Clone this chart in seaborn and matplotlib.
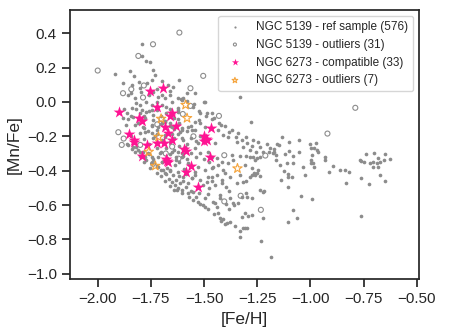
import matplotlib
matplotlib.use('Agg')
import numpy as np
import pandas as pd
import matplotlib.pyplot as plt
import seaborn as sns

# NGC 5139 reference sample ([Fe/H], [Mn/Fe]), grouped by region
ref_upper = [
    (-1.79, 0.335), (-1.79, 0.27), (-1.775, 0.24), (-1.755, 0.23), (-1.92, 0.163),
    (-1.85, 0.182), (-1.83, 0.151), (-1.805, 0.118), (-1.74, 0.186), (-1.732, 0.157),
    (-1.747, 0.128), (-1.766, 0.109), (-1.881, 0.109), (-1.841, 0.099), (-1.669, 0.099),
    (-1.645, 0.089), (-1.857, 0.041), (-1.826, 0.021), (-1.797, 0.06), (-1.739, 0.06),
    (-1.716, 0.031), (-1.684, 0.021), (-1.661, 0.041), (-1.821, -0.004), (-1.802, -0.017),
    (-1.771, 0.002), (-1.747, -0.017), (-1.719, 0.002), (-1.697, -0.017), (-1.653, 0.002),
    (-1.606, 0.012), (-1.876, -0.043), (-1.841, -0.037), (-1.794, -0.047), (-1.771, -0.056),
    (-1.747, -0.047), (-1.677, -0.031), (-1.622, -0.047), (-1.881, -0.095), (-1.857, -0.101),
    (-1.834, -0.085), (-1.78, -0.081), (-1.739, -0.105), (-1.684, -0.114), (-1.622, -0.101),
    (-1.826, -0.134), (-1.786, -0.144), (-1.747, -0.134), (-1.716, -0.144), (-1.653, -0.144),
    (-1.62, 0.13), (-1.33, 0.03), (-1.50, 0.0), (-1.61, 0.015), (-1.70, 0.12),
    (-1.543, 0.05), (-1.598, 0.021), (-1.496, 0.002), (-1.622, -0.037),
]
ref_left = [
    (-1.865, -0.134), (-1.81, -0.124), (-1.70, -0.124), (-1.661, -0.12), (-1.779, -0.172),
    (-1.747, -0.178), (-1.732, -0.198), (-1.684, -0.192), (-1.653, -0.186), (-1.614, -0.172),
    (-1.606, -0.211), (-1.857, -0.25), (-1.834, -0.264), (-1.81, -0.279), (-1.787, -0.289),
    (-1.826, -0.289), (-1.763, -0.299), (-1.747, -0.318), (-1.708, -0.299), (-1.653, -0.289),
    (-1.63, -0.318), (-1.606, -0.299), (-1.771, -0.337), (-1.747, -0.357), (-1.70, -0.347),
    (-1.716, -0.376), (-1.692, -0.396), (-1.684, -0.415), (-1.661, -0.396), (-1.645, -0.425),
    (-1.63, -0.454), (-1.653, -0.464), (-1.614, -0.473), (-1.606, -0.512), (-1.622, -0.502),
]
ref_mid = [
    (-1.488, -0.066), (-1.465, -0.066), (-1.543, -0.114), (-1.52, -0.124), (-1.496, -0.144),
    (-1.575, -0.144), (-1.606, -0.163), (-1.559, -0.163), (-1.433, -0.163), (-1.41, -0.192),
    (-1.386, -0.202), (-1.347, -0.231), (-1.323, -0.221), (-1.30, -0.241), (-1.237, -0.26),
    (-1.222, -0.289), (-1.37, -0.308), (-1.362, -0.338), (-1.386, -0.357), (-1.418, -0.347),
    (-1.441, -0.328), (-1.433, -0.367), (-1.457, -0.376), (-1.41, -0.396), (-1.308, -0.367),
    (-1.276, -0.386), (-1.465, -0.318), (-1.48, -0.289), (-1.449, -0.241), (-1.527, -0.241),
    (-1.543, -0.27), (-1.59, -0.26), (-1.622, -0.289), (-1.606, -0.318), (-1.63, -0.338),
    (-1.575, -0.357), (-1.527, -0.376), (-1.496, -0.396), (-1.543, -0.425), (-1.48, -0.435),
    (-1.622, -0.405), (-1.598, -0.435),
]
ref_low = [
    (-1.575, -0.473), (-1.559, -0.444), (-1.488, -0.464), (-1.465, -0.435), (-1.449, -0.483),
    (-1.418, -0.454), (-1.402, -0.415), (-1.378, -0.435), (-1.347, -0.473), (-1.315, -0.464),
    (-1.284, -0.435), (-1.625, -0.515), (-1.575, -0.532), (-1.551, -0.522), (-1.527, -0.58),
    (-1.504, -0.599), (-1.496, -0.609), (-1.449, -0.59), (-1.426, -0.541), (-1.378, -0.561),
    (-1.362, -0.59), (-1.339, -0.59), (-1.30, -0.551), (-1.276, -0.561), (-1.237, -0.512),
    (-1.222, -0.522), (-1.433, -0.648), (-1.426, -0.677), (-1.41, -0.683), (-1.394, -0.706),
    (-1.378, -0.697), (-1.355, -0.725), (-1.331, -0.754), (-1.315, -0.735), (-1.30, -0.735),
    (-1.331, -0.784), (-1.222, -0.677), (-1.323, -0.667), (-1.308, -0.648), (-1.276, -0.657),
    (-1.232, -0.811), (-1.187, -0.902),
]
ref_tail = [
    (-1.279, -0.114), (-1.135, -0.202), (-1.248, -0.235), (-1.273, -0.256), (-1.100, -0.235),
    (-1.053, -0.223), (-1.190, -0.266), (-1.158, -0.246), (-1.001, -0.244), (-0.973, -0.237),
    (-0.998, -0.27), (-0.983, -0.27), (-0.967, -0.279), (-0.965, -0.289), (-1.257, -0.289),
    (-1.194, -0.293), (-1.178, -0.299), (-1.170, -0.289), (-1.162, -0.308), (-1.099, -0.283),
    (-1.331, -0.314), (-1.303, -0.314), (-1.284, -0.318), (-1.268, -0.318), (-1.253, -0.328),
    (-1.26, -0.338), (-1.238, -0.322), (-0.930, -0.322), (-0.933, -0.338), (-0.992, -0.308),
    (-0.995, -0.338), (-0.989, -0.353), (-0.998, -0.357), (-0.739, -0.303), (-0.699, -0.299),
    (-0.651, -0.303), (-0.769, -0.338), (-0.763, -0.343), (-0.750, -0.349), (-0.719, -0.357),
    (-0.708, -0.347), (-0.684, -0.328), (-0.672, -0.347), (-0.687, -0.353), (-0.654, -0.338),
    (-0.626, -0.334), (-0.708, -0.376), (-0.680, -0.38), (-1.111, -0.353), (-1.080, -0.353),
    (-1.033, -0.376), (-0.983, -0.38), (-0.892, -0.371), (-0.863, -0.396), (-0.839, -0.396),
    (-0.819, -0.409), (-0.914, -0.405), (-1.143, -0.367), (-1.163, -0.338), (-1.123, -0.402),
    (-1.107, -0.435), (-1.085, -0.438), (-1.107, -0.419), (-1.025, -0.423), (-1.139, -0.454),
    (-1.105, -0.493), (-0.761, -0.444), (-0.675, -0.425), (-0.651, -0.46), (-0.726, -0.477),
    (-0.834, -0.469), (-1.305, -0.46), (-1.273, -0.423), (-1.265, -0.411), (-1.246, -0.396),
    (-1.249, -0.411), (-1.237, -0.431), (-1.26, -0.425), (-1.331, -0.425), (-1.217, -0.52),
    (-1.303, -0.532), (-1.323, -0.551), (-1.045, -0.549), (-0.994, -0.566), (-1.083, -0.63),
    (-1.105, -0.696), (-1.064, -0.677), (-0.764, -0.665), (-1.292, -0.663), (-1.308, -0.731),
]
ref_core = [
    (-1.722, -0.268), (-1.703, -0.291), (-1.681, -0.266), (-1.662, -0.302), (-1.641, -0.279),
    (-1.618, -0.257), (-1.601, -0.313), (-1.579, -0.331), (-1.562, -0.297), (-1.538, -0.322),
    (-1.517, -0.296), (-1.502, -0.334), (-1.476, -0.352), (-1.461, -0.384), (-1.718, -0.323),
    (-1.697, -0.352), (-1.676, -0.384), (-1.659, -0.403), (-1.638, -0.366), (-1.617, -0.352),
    (-1.596, -0.392), (-1.583, -0.418), (-1.559, -0.441), (-1.541, -0.407), (-1.519, -0.452),
    (-1.503, -0.483), (-1.478, -0.502), (-1.463, -0.461), (-1.437, -0.428), (-1.418, -0.473),
    (-1.397, -0.497), (-1.381, -0.518), (-1.664, -0.447), (-1.637, -0.484), (-1.618, -0.432),
    (-1.597, -0.462), (-1.583, -0.493), (-1.561, -0.518), (-1.538, -0.552), (-1.522, -0.528),
    (-1.497, -0.562), (-1.482, -0.538), (-1.459, -0.583), (-1.441, -0.612), (-1.423, -0.558),
    (-1.398, -0.593), (-1.384, -0.621), (-1.357, -0.602), (-1.782, -0.218), (-1.761, -0.243),
    (-1.738, -0.212), (-1.721, -0.188), (-1.698, -0.223), (-1.683, -0.203), (-1.662, -0.232),
    (-1.639, -0.208), (-1.623, -0.187), (-1.597, -0.224), (-1.582, -0.243), (-1.561, -0.207),
    (-1.539, -0.228), (-1.518, -0.198), (-1.803, -0.182), (-1.781, -0.152), (-1.762, -0.168),
    (-1.743, -0.139), (-1.719, -0.163), (-1.703, -0.131), (-1.682, -0.108), (-1.659, -0.142),
    (-1.641, -0.158), (-1.618, -0.121), (-1.603, -0.152), (-1.578, -0.171), (-1.562, -0.138),
    (-1.541, -0.161), (-1.522, -0.107), (-1.843, -0.201), (-1.822, -0.262), (-1.801, -0.293),
    (-1.779, -0.318), (-1.759, -0.302), (-1.741, -0.333), (-1.722, -0.372), (-1.702, -0.398),
    (-1.681, -0.421), (-1.862, -0.062), (-1.842, -0.083), (-1.819, -0.041), (-1.803, -0.062),
    (-1.778, -0.093), (-1.761, -0.052), (-1.742, -0.073), (-1.721, -0.048), (-1.703, -0.082),
    (-1.681, -0.063), (-1.662, -0.041), (-1.641, -0.092), (-1.621, -0.061), (-1.843, 0.052),
    (-1.802, 0.081), (-1.761, 0.042), (-1.722, 0.073), (-1.698, 0.038), (-1.661, 0.062),
    (-1.623, 0.022), (-1.582, 0.003), (-1.553, -0.028), (-1.522, -0.052), (-1.492, -0.083),
    (-1.461, -0.102), (-1.431, -0.121), (-1.402, -0.142), (-1.371, -0.163), (-1.342, -0.182),
    (-1.302, -0.203), (-1.272, -0.222), (-1.581, 0.052), (-1.548, -0.012), (-1.518, -0.063),
    (-1.452, -0.092), (-1.421, -0.133), (-1.382, -0.172), (-1.352, -0.203), (-1.318, -0.262),
    (-1.283, -0.281), (-1.203, -0.242), (-1.172, -0.272), (-1.148, -0.252), (-1.121, -0.302),
    (-1.083, -0.312), (-1.052, -0.292), (-1.862, -0.242), (-1.841, -0.273), (-1.803, -0.312),
    (-1.782, -0.352), (-1.752, -0.382), (-1.721, -0.412), (-1.702, -0.432), (-1.682, -0.462),
    (-1.662, -0.491), (-1.642, -0.512), (-1.603, -0.532), (-1.571, -0.552), (-1.552, -0.572),
    (-1.521, -0.592), (-1.482, -0.622), (-1.452, -0.652), (-1.421, -0.692), (-1.402, -0.712),
]

# NGC 5139 outliers
out_feh = [-2.00, -1.616, -1.74, -1.809, -1.504, -1.842, -1.881, -1.783, -1.787, -1.564,
           -1.564, -1.43, -0.789, -1.903, -1.878, -1.887, -0.92, -1.405, -1.212, -1.328,
           -1.405, -1.233, -1.72, -1.70, -1.60, -1.74, -1.65, -1.80, -1.68, -1.55, -1.62]
out_mnfe = [0.183, 0.404, 0.336, 0.268, 0.152, 0.074, 0.051, 0.096, 0.026, 0.08,
            -0.023, -0.081, -0.034, -0.176, -0.213, -0.25, -0.184, -0.31, -0.312, -0.546,
            -0.579, -0.628, -0.13, -0.10, -0.07, -0.36, -0.26, -0.25, -0.30, -0.20, -0.33]

# NGC 6273 compatible stars
comp_feh = [-1.901, -1.752, -1.692, -1.72, -1.807, -1.79, -1.853, -1.83, -1.828, -1.77,
            -1.79, -1.72, -1.688, -1.669, -1.685, -1.658, -1.649, -1.634, -1.652, -1.677,
            -1.669, -1.595, -1.587, -1.583, -1.56, -1.528, -1.498, -1.493, -1.484, -1.466,
            -1.473, -1.50, -1.672]
comp_mnfe = [-0.06, 0.061, 0.082, -0.03, -0.096, -0.11, -0.188, -0.22, -0.234, -0.253,
             -0.314, -0.236, -0.24, -0.182, -0.143, -0.079, -0.065, -0.139, -0.22, -0.334,
             -0.352, -0.271, -0.288, -0.41, -0.37, -0.496, -0.201, -0.217, -0.22, -0.153,
             -0.321, -0.225, -0.345]

# NGC 6273 outliers
o73_feh = [-1.587, -1.58, -1.702, -1.714, -1.76, -1.729, -1.343]
o73_mnfe = [-0.017, -0.094, -0.098, -0.203, -0.29, -0.372, -0.387]

labels = ['NGC 5139 - ref sample (576)', 'NGC 5139 - outliers (31)',
          'NGC 6273 - compatible (33)', 'NGC 6273 - outliers (7)']

ref_pts = ref_upper + ref_left + ref_mid + ref_low + ref_tail + ref_core
ref = pd.DataFrame(ref_pts, columns=['feh', 'mnfe'])

sns.set_theme(style='ticks', context='notebook')
plt.rcParams['font.family'] = ['Liberation Sans', 'DejaVu Sans']

fig, ax = plt.subplots(figsize=(4.49, 3.36), dpi=100)
fig.subplots_adjust(left=0.156, right=0.933, top=0.970, bottom=0.170)

grey = '#8c8c8c'
sns.scatterplot(data=ref, x='feh', y='mnfe', color=grey, s=7, linewidth=0,
                label=labels[0], ax=ax, zorder=2)
sns.scatterplot(x=out_feh, y=out_mnfe, marker='o', s=13, facecolor='none',
                edgecolor=grey, linewidth=0.8, label=labels[1], ax=ax, zorder=3)
sns.scatterplot(x=comp_feh, y=comp_mnfe, marker='*', s=80, color='#ff1493',
                linewidth=0, label=labels[2], ax=ax, zorder=4)
sns.scatterplot(x=o73_feh, y=o73_mnfe, marker='*', s=50, facecolor='none',
                edgecolor='#f5a33a', linewidth=0.8, label=labels[3], ax=ax, zorder=5)

ax.set_xlim(-2.13, -0.49)
ax.set_ylim(-1.03, 0.535)
ax.set_xticks(np.arange(-2.0, -0.49, 0.25))
ax.set_yticks(np.arange(-1.0, 0.41, 0.2))
ax.set_xlabel('[Fe/H]', fontsize=12.5)
ax.set_ylabel('[Mn/Fe]', fontsize=12.5)
ax.tick_params(labelsize=11)

ax.legend(loc='upper right', fontsize=8.5, markerscale=0.6, frameon=True)

fig.savefig('out.png', dpi=100)
